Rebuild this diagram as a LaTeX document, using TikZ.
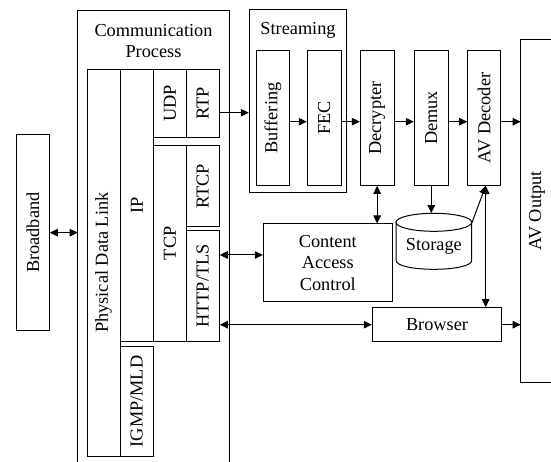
\documentclass[tikz,border=0pt]{standalone}
\usepackage{fontspec}
\setmainfont{Liberation Serif}
\usetikzlibrary{arrows.meta,calc}
\tikzset{
  box/.style={draw, line width=1pt, inner sep=0pt, align=center},
  arr/.style={line width=1pt, -{Triangle[length=8pt,width=7.5pt]}},
  darr/.style={line width=1pt, {Triangle[length=8pt,width=7.5pt]}-{Triangle[length=8pt,width=7.5pt]}},
  ln/.style={line width=1pt},
}
\newcommand{\vt}[1]{\rotatebox{90}{#1}}
\begin{document}
\begin{tikzpicture}[x=1pt,y=-1pt,font=\fontsize{18.3}{21.5}\selectfont]
\useasboundingbox (0,0) rectangle (551,462);

% Communication process frame (open at bottom)
\draw[ln] (77.7,470) -- (77.7,11) -- (229.3,11) -- (229.3,470);
\node[align=center] (commtitle) at (153.5,41) {Communication\\Process};
\coordinate (commL) at (77.7,233);

\node[box, minimum width=33pt, minimum height=386.7pt] (pdl) at (103.5,262.65) {\vt{Physical Data Link}};
\node[box, minimum width=33.7pt, minimum height=271.7pt] (ip) at (136.85,205.15) {\vt{IP}};
\node[box, minimum width=32.3pt, minimum height=68pt] (udp) at (169.85,103.3) {\vt{UDP}};
\node[box, minimum width=33.3pt, minimum height=68pt] (rtp) at (202.65,103.3) {\vt{RTP}};
\node[box, minimum width=32.3pt, minimum height=195.3pt] (tcp) at (169.85,243.35) {\vt{TCP}};
\node[box, minimum width=33.3pt, minimum height=81pt] (rtcp) at (202.65,186.2) {\vt{RTCP}};
\node[box, minimum width=33.3pt, minimum height=110pt] (http) at (202.65,286) {\vt{HTTP/TLS}};
\node[box, minimum width=33.3pt, minimum height=109.3pt] (igmp) at (136.65,401.35) {\vt{IGMP/MLD}};

% Broadband
\node[box, minimum width=32.8pt, minimum height=195.3pt] (bb) at (32.9,232.65) {\vt{Broadband}};

% Streaming
\node[box, minimum width=97.4pt, minimum height=183pt] (stream) at (298,100.8) {};
\node (streamtitle) at (298,30) {Streaming};
\node[box, minimum width=33.4pt, minimum height=134.6pt] (buf) at (273,118) {\vt{Buffering}};
\node[box, minimum width=33.7pt, minimum height=134.6pt] (fec) at (324.15,118) {\vt{FEC}};

\node[box, minimum width=33.7pt, minimum height=134.6pt] (dec) at (377.15,118) {\vt{Decrypter}};
\node[box, minimum width=34pt, minimum height=134.6pt] (demux) at (431.3,118) {\vt{Demux}};
\node[box, minimum width=33pt, minimum height=134.6pt] (avd) at (484.2,118) {\vt{AV Decoder}};

% AV Output (open at right)
\draw[ln] (560,39.3) -- (520.7,39.3) -- (520.7,382.7) -- (560,382.7);
\node[inner sep=0pt] (avout) at (537,211) {\vt{AV Output}};
\coordinate (avoutL) at (520.7,211);

% Content Access Control
\node[box, minimum width=129pt, minimum height=77.3pt] (cac) at (327.8,262.65) {Content\\Access\\Control};

% Storage cylinder
\node[minimum width=75.7pt, minimum height=56pt, inner sep=0pt] (storage) at (433.85,241.3) {};
\node (storagetext) at (433.85,246) {Storage};
\draw[ln] (396,222.3) -- (396,260.3) .. controls (396,272.3) and (471.7,272.3) .. (471.7,260.3)
  -- (471.7,222.3);
\draw[ln] (433.85,222.3) ellipse[x radius=37.85pt, y radius=9pt];

% Browser
\node[box, minimum width=129.4pt, minimum height=34pt] (browser) at (437,324.7) {Browser};

% Connectors
\draw[darr] (bb.east) -- (bb.east -| commL);
\draw[arr] ([yshift=-9.4pt]rtp.east) -- ([yshift=-9.4pt]rtp.east -| stream.west);
\draw[arr] ([yshift=-3.7pt]buf.east) -- ([yshift=-3.7pt]fec.west);
\draw[arr] ([yshift=-3.7pt]fec.east) -- ([yshift=-3.7pt]dec.west);
\draw[arr] ([yshift=-3.7pt]dec.east) -- ([yshift=-3.7pt]demux.west);
\draw[arr] ([yshift=-3.7pt]demux.east) -- ([yshift=-3.7pt]avd.west);
\draw[arr] ([yshift=-3.7pt]avd.east) -- ([yshift=-3.7pt]avd.east -| avoutL);
\draw[darr] (dec.south) -- (dec.south |- cac.north);
\draw[arr] (demux.south) -- (demux.south |- storage.north);
\draw[arr] ([yshift=18.5pt]storage.east) -- ([xshift=1.5pt]avd.south);
\draw[darr] ([xshift=1.5pt]avd.south) -- ([xshift=1.5pt]avd.south |- browser.north);
\draw[darr] ([yshift=31pt]http.east) -- ([yshift=31pt]http.east -| cac.west);
\draw[darr] (http.east |- browser.west) -- (browser.west);
\draw[arr] (browser.east) -- (browser.east -| avoutL);
\end{tikzpicture}
\end{document}
